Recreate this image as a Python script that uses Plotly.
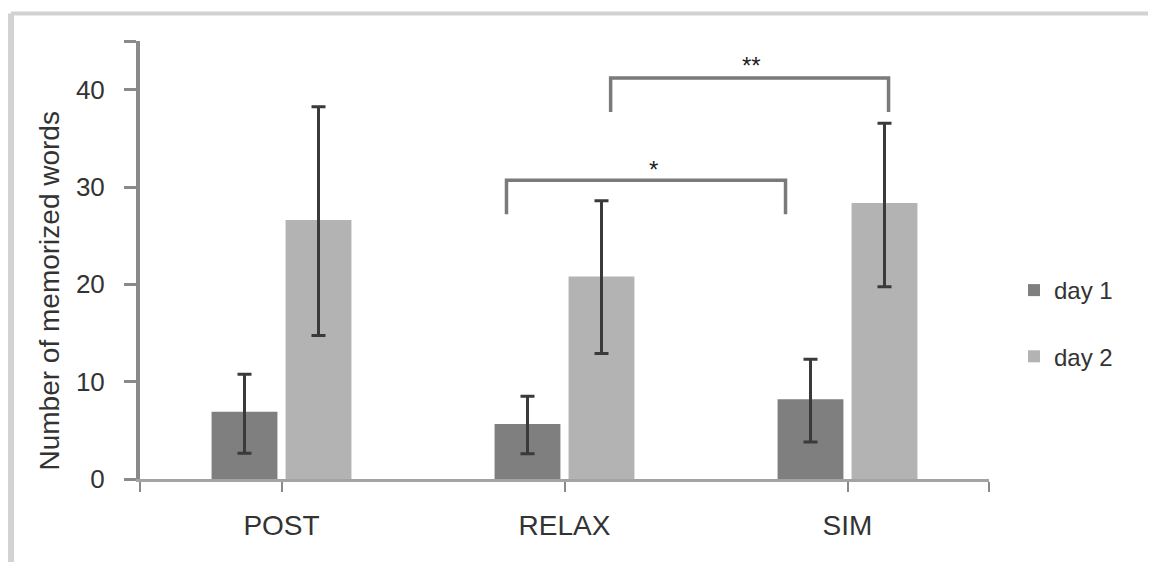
import plotly.graph_objects as go

categories = ["POST", "RELAX", "SIM"]
series_names = ["day 1", "day 2"]
day1 = [6.9, 5.65, 8.2]
day1_hi = [10.75, 8.5, 12.3]
day1_lo = [2.65, 2.6, 3.8]
day2 = [26.6, 20.8, 28.35]
day2_hi = [38.25, 28.6, 36.55]
day2_lo = [14.75, 12.9, 19.75]
y_ticks = [0, 10, 20, 30, 40]
y_max = 45

# significance brackets: (x start, x end, top y, leg bottom y, label, label position)
br_x0 = [0.795, 1.163]
br_x1 = [1.781, 2.145]
br_top = [30.7, 41.2]
br_leg = [27.2, 37.7]
br_label = ["*", "**"]
br_label_x = [1.316, 1.66]
br_label_y = [31.75, 42.5]

FONT = "Liberation Sans, Arial, sans-serif"
TXT = "#333333"

# the page adds an 8px body margin; figure sized to fit inside the window
W, H = 1148, 554
ML, MT = 132, 33
PW, PH = 849, 438


def px(xp):
    return (xp - 8 - ML) / PW


def py(yp):
    return (MT + PH - (yp - 8)) / PH


fig = go.Figure()
for name, vals, hi, lo, col, grp in [
    (series_names[0], day1, day1_hi, day1_lo, "#7f7f7f", "g1"),
    (series_names[1], day2, day2_hi, day2_lo, "#b3b3b3", "g2"),
]:
    fig.add_trace(go.Bar(
        x=categories, y=vals, name=name, legendgroup=grp,
        marker=dict(color=col, line=dict(width=0)),
        error_y=dict(type="data", symmetric=False,
                     array=[h - v for h, v in zip(hi, vals)],
                     arrayminus=[v - l for v, l in zip(vals, lo)],
                     color="#3a3a3a", thickness=3, width=7),
    ))

shapes = []
for x0, x1, yt, yl in zip(br_x0, br_x1, br_top, br_leg):
    shapes.append(dict(type="path", xref="x", yref="y",
                       path=f"M {x0},{yl} L {x0},{yt} L {x1},{yt} L {x1},{yl}",
                       line=dict(color="#7a7a7a", width=3.5)))

# outer frame
fl, fr, ft, fb = px(11), px(1153), py(13.5), py(575)
frame = "#d2d2d2"
shapes += [
    dict(type="line", xref="paper", yref="paper", x0=fl, x1=fr, y0=ft, y1=ft, line=dict(color=frame, width=4)),
    dict(type="line", xref="paper", yref="paper", x0=fl, x1=fl, y0=fb, y1=ft, line=dict(color=frame, width=6)),
    dict(type="line", xref="paper", yref="paper", x0=fr, x1=fr, y0=fb, y1=ft, line=dict(color=frame, width=3)),
]

annotations = []
for lx, ly, lab in zip(br_label_x, br_label_y, br_label):
    annotations.append(dict(x=lx, y=ly, xref="x", yref="y", text=lab, showarrow=False,
                            font=dict(size=24, color="#222222", family=FONT), yanchor="middle"))
annotations.append(dict(x=px(31), y=py(291), xref="paper", yref="paper",
                        text="Number of memorized words", textangle=-90, showarrow=False,
                        font=dict(size=28, color=TXT, family=FONT)))

fig.update_layout(
    width=W, height=H,
    margin=dict(l=ML, r=W - ML - PW, t=MT, b=H - MT - PH, pad=0),
    paper_bgcolor="white", plot_bgcolor="white",
    barmode="group", bargap=0.477, bargroupgap=0.11,
    font=dict(family=FONT, color=TXT),
    shapes=shapes, annotations=annotations,
    legend=dict(x=px(1014), xanchor="left", y=py(268), yanchor="top",
                font=dict(size=24, color=TXT, family=FONT), tracegroupgap=32,
                bgcolor="rgba(0,0,0,0)"),
    xaxis=dict(type="category", range=[-0.5, 2.5],
               tickmode="array", tickvals=[-0.5, 0, 1, 2, 2.5],
               ticktext=[""] + categories + [""],
               ticks="outside", ticklen=10, tickwidth=2, tickcolor="#8a8a8a",
               showline=True, linecolor="#a3a3a3", linewidth=3,
               showgrid=False, zeroline=False,
               tickfont=dict(size=28, color=TXT, family=FONT), ticklabelstandoff=9),
    yaxis=dict(range=[0, y_max], tickmode="array",
               tickvals=y_ticks + [y_max], ticktext=[str(t) for t in y_ticks] + [""],
               ticks="outside", ticklen=12, tickwidth=3, tickcolor="#8a8a8a",
               showline=True, linecolor="#8a8a8a", linewidth=4,
               showgrid=False, zeroline=False,
               tickfont=dict(size=26, color=TXT, family=FONT), ticklabelstandoff=14),
)

fig.write_html("out.html")
